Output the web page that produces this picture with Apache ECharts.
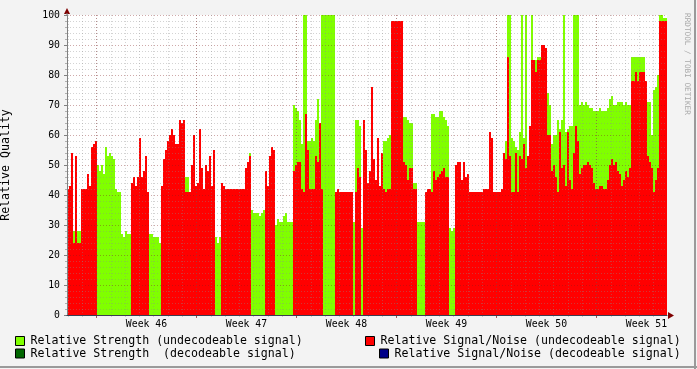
<!DOCTYPE html>
<html><head><meta charset="utf-8">
<script src="https://cdn.jsdelivr.net/npm/echarts@6/dist/echarts.min.js"></script>
<style>html,body{margin:0;padding:0;background:#F3F3F3}#c{width:697px;height:369px}</style>
</head><body><div id="c"></div>
<script>
// ---- data (one value per 2-pixel column) ----
const weekLabels = ['Week 46','Week 47','Week 48','Week 49','Week 50','Week 51'];

const snUndecodeable = [
42,43,54,24,53,24,24,42,42,42,47,43,56,57,58,0,0,0,0,0,
0,0,0,0,0,0,0,0,0,0,0,0,44,46,43,46,59,46,48,53,
41,0,0,0,0,0,0,43,52,55,58,60,62,60,57,57,65,64,65,41,
41,41,50,60,43,44,62,49,42,50,48,53,43,55,0,0,0,44,43,42,
42,42,42,42,42,42,42,42,42,49,51,53,0,0,0,0,0,0,0,48,
43,53,56,55,0,0,0,0,0,0,0,0,0,48,50,51,51,42,41,67,
55,42,42,42,53,51,64,42,0,0,0,0,0,0,41,42,41,41,41,41,
41,41,41,0,41,49,46,0,65,55,44,48,76,52,45,59,43,54,42,41,
42,42,98,98,98,98,98,98,51,50,45,49,49,42,42,0,0,0,0,41,
42,42,41,48,45,46,47,48,49,46,46,0,0,0,50,51,51,45,51,46,
47,41,41,41,41,41,41,41,42,42,42,61,59,41,41,41,41,42,54,52,
86,53,41,41,54,41,53,52,57,49,53,63,85,85,81,85,85,90,90,89,
60,60,48,50,46,41,61,49,50,43,61,45,42,54,63,58,47,49,50,50,
51,50,49,44,42,42,43,43,42,42,45,50,52,50,51,48,47,43,45,48,
46,49,78,78,81,78,81,81,81,78,53,51,49,41,45,49,98,98,98,98
];

const strengthUndecodeable = [
0,0,0,28,27,28,28,0,0,0,0,0,0,0,0,50,48,50,47,56,
53,54,53,52,42,41,41,27,26,28,27,27,0,0,0,0,0,0,0,0,
0,27,27,26,26,26,24,0,0,0,0,0,0,0,0,0,0,0,0,46,
46,0,0,0,0,0,0,0,0,0,0,0,0,0,26,24,26,24,0,0,
0,0,0,0,0,0,0,0,0,0,0,54,35,34,34,34,33,34,35,0,
0,0,0,0,30,32,31,31,33,34,31,31,31,70,69,68,65,57,100,100,
58,58,59,58,65,72,44,100,100,100,100,100,100,100,0,0,0,0,0,0,
0,0,0,31,65,65,63,29,0,0,0,0,0,0,0,0,0,0,58,58,
59,60,0,0,0,0,0,0,66,66,65,64,64,44,44,31,31,31,31,32,
0,0,67,67,66,66,68,68,66,65,63,29,28,29,0,0,0,0,0,0,
0,0,0,0,0,0,0,0,0,0,0,0,0,0,0,0,0,0,0,58,
100,100,59,58,56,55,61,100,59,100,53,54,100,85,85,86,86,0,0,0,
74,70,57,60,60,65,62,65,100,61,62,63,63,100,100,100,70,71,70,71,
70,69,69,68,68,68,69,68,68,68,69,72,73,70,70,71,71,71,70,71,
70,70,86,86,86,86,86,86,86,78,71,71,60,75,76,80,100,100,99,99
];

const strengthDecodeable = [];
const snDecodeable = [];

const columns = snUndecodeable.map((_, i) => i);

// ---- styling ----
const FONT = 'DejaVu Sans Mono';
const GRIDC = 'rgba(140,140,140,0.38)';
const MGRIDC = 'rgba(130,30,30,0.38)';
const DAY = 100 / 7;
const WEEK0 = 96.5;

const names = [
  'Relative Strength (undecodeable signal)',
  'Relative Signal/Noise (undecodeable signal)',
  'Relative Strength  (decodeable signal)',
  'Relative Signal/Noise (decodeable signal)'
];

const legendCommon = {
  orient: 'horizontal', padding: 0, icon: 'rect', itemWidth: 9, itemHeight: 9,
  itemStyle: { borderColor: '#000', borderWidth: 1 },
  textStyle: { fontFamily: FONT, fontSize: 11.6, color: '#000', padding: [0, 0, 0, 1] },
  selectedMode: false
};

const barCommon = {
  type: 'bar', xAxisIndex: 0, yAxisIndex: 0, barWidth: '100%', barGap: '-100%',
  barCategoryGap: '0%', silent: true, z: 2
};

const gridCommon = { outerBoundsMode: 'none', containLabel: false, top: 15, height: 300 };

const option = {
  animation: false,
  backgroundColor: '#F3F3F3',
  grid: [
    Object.assign({ left: 67, width: 600, backgroundColor: '#FFFFFF', show: true, borderWidth: 0 }, gridCommon),
    Object.assign({ left: WEEK0 - 2 * DAY, width: 41 * DAY }, gridCommon),
    Object.assign({ left: WEEK0, width: 500 }, gridCommon),
    Object.assign({ left: WEEK0, width: 600 }, gridCommon)
  ],
  xAxis: [
    { gridIndex: 0, type: 'category', data: columns, boundaryGap: true,
      axisLine: { show: true, lineStyle: { color: '#3C3C50', width: 1 } },
      axisTick: { show: false }, axisLabel: { show: false }, splitLine: { show: false }, z: 4 },
    { gridIndex: 1, type: 'value', min: 0, max: 41, interval: 1,
      axisLine: { show: false }, axisLabel: { show: false },
      axisTick: { show: true, length: 2, lineStyle: { color: GRIDC } },
      splitLine: { show: true, lineStyle: { color: GRIDC, type: [1, 2] } }, z: 3 },
    { gridIndex: 2, type: 'value', min: 0, max: 5, interval: 1,
      axisLine: { show: false }, axisLabel: { show: false },
      axisTick: { show: true, length: 3, lineStyle: { color: 'rgba(130,30,30,0.7)' } },
      splitLine: { show: true, lineStyle: { color: MGRIDC, type: [1, 2] } }, z: 3 },
    { gridIndex: 3, type: 'category', data: weekLabels,
      axisLine: { show: false }, axisTick: { show: false }, splitLine: { show: false },
      axisLabel: { show: true, margin: 4, color: '#000', fontFamily: FONT, fontSize: 9.8 } }
  ],
  yAxis: [
    { gridIndex: 0, type: 'value', min: 0, max: 100, interval: 10,
      name: 'Relative Quality', nameLocation: 'middle', nameGap: 55,
      nameTextStyle: { fontFamily: FONT, fontSize: 11.6, color: '#000' },
      axisLine: { show: true, lineStyle: { color: '#808080' } },
      axisTick: { show: true, length: 3, lineStyle: { color: '#808080' } },
      minorTick: { show: true, splitNumber: 5, length: 2, lineStyle: { color: '#B0B0B0' } },
      axisLabel: { margin: 7, color: '#000', fontFamily: FONT, fontSize: 9.8 },
      splitLine: { show: true, showMinLine: false, lineStyle: { color: MGRIDC, type: [1, 2] } },
      minorSplitLine: { show: true, lineStyle: { color: GRIDC, type: [1, 2] } }, z: 3 },
    { gridIndex: 1, type: 'value', show: false, min: 0, max: 100 },
    { gridIndex: 2, type: 'value', show: false, min: 0, max: 100 },
    { gridIndex: 3, type: 'value', show: false, min: 0, max: 100 }
  ],
  legend: [
    Object.assign({ data: [names[0]], left: 15, top: 335 }, legendCommon),
    Object.assign({ data: [names[2]], left: 15, top: 347.5 }, legendCommon),
    Object.assign({ data: [names[1]], left: 365, top: 335 }, legendCommon),
    Object.assign({ data: [names[3]], left: 379, top: 347.5 }, legendCommon)
  ],
  series: [
    Object.assign({ name: names[0], data: strengthUndecodeable, itemStyle: { color: '#80FF00' } }, barCommon),
    Object.assign({ name: names[1], data: snUndecodeable, itemStyle: { color: '#FF0000' } }, barCommon),
    Object.assign({ name: names[2], data: strengthDecodeable, itemStyle: { color: '#006600' } }, barCommon),
    Object.assign({ name: names[3], data: snDecodeable, itemStyle: { color: '#000088' } }, barCommon)
  ],
  graphic: [
    { type: 'polygon', shape: { points: [[64, 14], [67, 8], [70, 14]] }, style: { fill: '#7F0000' }, z: 10 },
    { type: 'line', shape: { x1: 67, y1: 15, x2: 67, y2: 13 }, style: { stroke: '#808080', lineWidth: 1 }, z: 10 },
    { type: 'polygon', shape: { points: [[668, 312], [674, 315.5], [668, 319]] }, style: { fill: '#7F0000' }, z: 10 },
    { type: 'text', x: 687, y: 13, rotation: -Math.PI / 2,
      style: { text: 'RRDTOOL / TOBI OETIKER', font: '7.7px "DejaVu Sans Mono"', fill: '#A8A8A8',
               align: 'left', verticalAlign: 'middle' }, z: 10 },
    { type: 'line', shape: { x1: 695, y1: 0, x2: 695, y2: 369 }, style: { stroke: '#9A9A9A', lineWidth: 2 }, z: 10 },
    { type: 'line', shape: { x1: 0, y1: 367, x2: 697, y2: 367 }, style: { stroke: '#9A9A9A', lineWidth: 2 }, z: 10 }
  ]
};

const chart = echarts.init(document.getElementById('c'), null, { renderer: 'canvas' });
chart.setOption(option);
</script>
</body></html>
